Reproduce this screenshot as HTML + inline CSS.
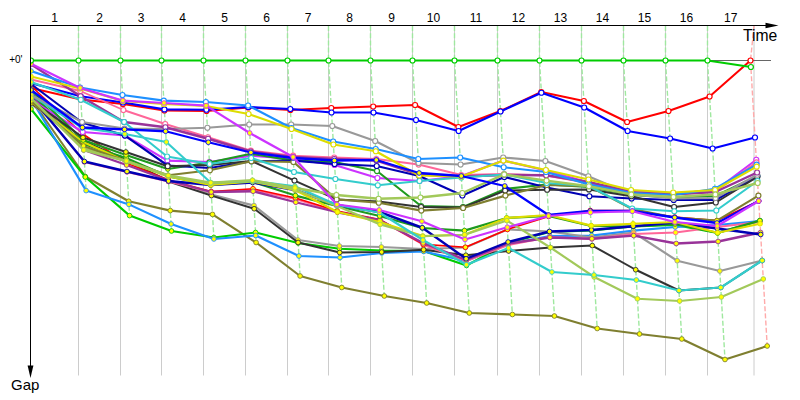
<!DOCTYPE html>
<html><head><meta charset="utf-8"><title>Gap chart</title>
<style>html,body{margin:0;padding:0;background:#fff}svg{display:block}</style></head>
<body>
<svg width="800" height="400" viewBox="0 0 800 400">
<rect width="800" height="400" fill="#fff"/>
<line x1="78.5" y1="26" x2="78.5" y2="375.5" stroke="#cccccc" stroke-width="1"/>
<line x1="120.5" y1="26" x2="120.5" y2="375.5" stroke="#cccccc" stroke-width="1"/>
<line x1="161.5" y1="26" x2="161.5" y2="375.5" stroke="#cccccc" stroke-width="1"/>
<line x1="203.5" y1="26" x2="203.5" y2="375.5" stroke="#cccccc" stroke-width="1"/>
<line x1="245.5" y1="26" x2="245.5" y2="375.5" stroke="#cccccc" stroke-width="1"/>
<line x1="287.5" y1="26" x2="287.5" y2="375.5" stroke="#cccccc" stroke-width="1"/>
<line x1="328.5" y1="26" x2="328.5" y2="375.5" stroke="#cccccc" stroke-width="1"/>
<line x1="370.5" y1="26" x2="370.5" y2="375.5" stroke="#cccccc" stroke-width="1"/>
<line x1="412.5" y1="26" x2="412.5" y2="375.5" stroke="#cccccc" stroke-width="1"/>
<line x1="454.5" y1="26" x2="454.5" y2="375.5" stroke="#cccccc" stroke-width="1"/>
<line x1="497.5" y1="26" x2="497.5" y2="375.5" stroke="#cccccc" stroke-width="1"/>
<line x1="539.5" y1="26" x2="539.5" y2="375.5" stroke="#cccccc" stroke-width="1"/>
<line x1="581.5" y1="26" x2="581.5" y2="375.5" stroke="#cccccc" stroke-width="1"/>
<line x1="623.5" y1="26" x2="623.5" y2="375.5" stroke="#cccccc" stroke-width="1"/>
<line x1="665.5" y1="26" x2="665.5" y2="375.5" stroke="#cccccc" stroke-width="1"/>
<line x1="707.5" y1="26" x2="707.5" y2="375.5" stroke="#cccccc" stroke-width="1"/>
<line x1="754" y1="26" x2="754" y2="375.5" stroke="#cccccc" stroke-width="1"/>
<line x1="31" y1="60.5" x2="771" y2="60.5" stroke="#666" stroke-width="1"/>
<polyline points="78.50,26 78.50,60.5 86.11,190.6" fill="none" stroke="#9fe89f" stroke-width="1.4" stroke-dasharray="5 2.2"/>
<polyline points="120.50,26 120.50,60.5 129.57,215.6" fill="none" stroke="#9fe89f" stroke-width="1.4" stroke-dasharray="5 2.2"/>
<polyline points="161.50,26 161.50,60.5 171.47,231" fill="none" stroke="#9fe89f" stroke-width="1.4" stroke-dasharray="5 2.2"/>
<polyline points="203.50,26 203.50,60.5 213.94,239" fill="none" stroke="#9fe89f" stroke-width="1.4" stroke-dasharray="5 2.2"/>
<polyline points="245.50,26 245.50,60.5 256.15,242.5" fill="none" stroke="#9fe89f" stroke-width="1.4" stroke-dasharray="5 2.2"/>
<polyline points="287.50,26 287.50,60.5 300.11,276" fill="none" stroke="#9fe89f" stroke-width="1.4" stroke-dasharray="5 2.2"/>
<polyline points="328.50,26 328.50,60.5 341.78,287.5" fill="none" stroke="#9fe89f" stroke-width="1.4" stroke-dasharray="5 2.2"/>
<polyline points="370.50,26 370.50,60.5 384.28,296" fill="none" stroke="#9fe89f" stroke-width="1.4" stroke-dasharray="5 2.2"/>
<polyline points="412.50,26 412.50,60.5 426.69,303" fill="none" stroke="#9fe89f" stroke-width="1.4" stroke-dasharray="5 2.2"/>
<polyline points="454.50,26 454.50,60.5 469.27,313" fill="none" stroke="#9fe89f" stroke-width="1.4" stroke-dasharray="5 2.2"/>
<polyline points="497.50,26 497.50,60.5 512.36,314.5" fill="none" stroke="#9fe89f" stroke-width="1.4" stroke-dasharray="5 2.2"/>
<polyline points="539.50,26 539.50,60.5 554.45,316" fill="none" stroke="#9fe89f" stroke-width="1.4" stroke-dasharray="5 2.2"/>
<polyline points="581.50,26 581.50,60.5 597.18,328.5" fill="none" stroke="#9fe89f" stroke-width="1.4" stroke-dasharray="5 2.2"/>
<polyline points="623.50,26 623.50,60.5 639.50,334" fill="none" stroke="#9fe89f" stroke-width="1.4" stroke-dasharray="5 2.2"/>
<polyline points="665.50,26 665.50,60.5 681.79,339" fill="none" stroke="#9fe89f" stroke-width="1.4" stroke-dasharray="5 2.2"/>
<polyline points="707.50,26 707.50,60.5 724.99,359.5" fill="none" stroke="#9fe89f" stroke-width="1.4" stroke-dasharray="5 2.2"/>
<polyline points="754.00,26 750.50,60.5 767.20,346" fill="none" stroke="#ffaaaa" stroke-width="1.4" stroke-dasharray="5 2.2"/>
<clipPath id="cp"><rect x="31" y="26" width="769" height="374"/></clipPath><g clip-path="url(#cp)">
<polyline points="31.0,99 85.3,176.5 128.7,201.25 170.3,210.6 212.5,214.4 256.1,242.5 300.1,276 341.8,287.5 384.3,296 426.7,303 469.3,313 512.4,314.5 554.4,316 597.2,328.5 639.5,334 681.8,339 725.0,359.5 767.2,346" fill="none" stroke="#7f7f30" stroke-width="2.15" stroke-linejoin="round"/>
<circle cx="31.0" cy="99" r="2.35" fill="#ffff00" stroke="#7f7f30" stroke-width="0.9"/>
<circle cx="85.3" cy="176.5" r="2.35" fill="#ffff00" stroke="#7f7f30" stroke-width="0.9"/>
<circle cx="128.7" cy="201.25" r="2.35" fill="#ffff00" stroke="#7f7f30" stroke-width="0.9"/>
<circle cx="170.3" cy="210.6" r="2.35" fill="#ffff00" stroke="#7f7f30" stroke-width="0.9"/>
<circle cx="212.5" cy="214.4" r="2.35" fill="#ffff00" stroke="#7f7f30" stroke-width="0.9"/>
<circle cx="256.1" cy="242.5" r="2.35" fill="#ffff00" stroke="#7f7f30" stroke-width="0.9"/>
<circle cx="300.1" cy="276" r="2.35" fill="#ffff00" stroke="#7f7f30" stroke-width="0.9"/>
<circle cx="341.8" cy="287.5" r="2.35" fill="#ffff00" stroke="#7f7f30" stroke-width="0.9"/>
<circle cx="384.3" cy="296" r="2.35" fill="#ffff00" stroke="#7f7f30" stroke-width="0.9"/>
<circle cx="426.7" cy="303" r="2.35" fill="#ffff00" stroke="#7f7f30" stroke-width="0.9"/>
<circle cx="469.3" cy="313" r="2.35" fill="#ffff00" stroke="#7f7f30" stroke-width="0.9"/>
<circle cx="512.4" cy="314.5" r="2.35" fill="#ffff00" stroke="#7f7f30" stroke-width="0.9"/>
<circle cx="554.4" cy="316" r="2.35" fill="#ffff00" stroke="#7f7f30" stroke-width="0.9"/>
<circle cx="597.2" cy="328.5" r="2.35" fill="#ffff00" stroke="#7f7f30" stroke-width="0.9"/>
<circle cx="639.5" cy="334" r="2.35" fill="#ffff00" stroke="#7f7f30" stroke-width="0.9"/>
<circle cx="681.8" cy="339" r="2.35" fill="#ffff00" stroke="#7f7f30" stroke-width="0.9"/>
<circle cx="725.0" cy="359.5" r="2.35" fill="#ffff00" stroke="#7f7f30" stroke-width="0.9"/>
<circle cx="767.2" cy="346" r="2.35" fill="#ffff00" stroke="#7f7f30" stroke-width="0.9"/>
<polyline points="31.0,109 85.3,177 129.6,215.6 171.5,231 213.9,237.5 255.6,232.5 298.2,243 339.5,248.7 381.6,250.5 423.6,251 466.5,265.5 508.2,243 549.5,232 591.4,230.5 633.2,226.5 675.1,225 717.6,233 759.9,220.6" fill="none" stroke="#00cc00" stroke-width="2.15" stroke-linejoin="round"/>
<circle cx="31.0" cy="109" r="2.35" fill="#ffff00" stroke="#00cc00" stroke-width="0.9"/>
<circle cx="85.3" cy="177" r="2.35" fill="#ffff00" stroke="#00cc00" stroke-width="0.9"/>
<circle cx="129.6" cy="215.6" r="2.35" fill="#ffff00" stroke="#00cc00" stroke-width="0.9"/>
<circle cx="171.5" cy="231" r="2.35" fill="#ffff00" stroke="#00cc00" stroke-width="0.9"/>
<circle cx="213.9" cy="237.5" r="2.35" fill="#ffff00" stroke="#00cc00" stroke-width="0.9"/>
<circle cx="255.6" cy="232.5" r="2.35" fill="#ffff00" stroke="#00cc00" stroke-width="0.9"/>
<circle cx="298.2" cy="243" r="2.35" fill="#ffff00" stroke="#00cc00" stroke-width="0.9"/>
<circle cx="339.5" cy="248.7" r="2.35" fill="#ffff00" stroke="#00cc00" stroke-width="0.9"/>
<circle cx="381.6" cy="250.5" r="2.35" fill="#ffff00" stroke="#00cc00" stroke-width="0.9"/>
<circle cx="423.6" cy="251" r="2.35" fill="#ffff00" stroke="#00cc00" stroke-width="0.9"/>
<circle cx="466.5" cy="265.5" r="2.35" fill="#ffff00" stroke="#00cc00" stroke-width="0.9"/>
<circle cx="508.2" cy="243" r="2.35" fill="#ffff00" stroke="#00cc00" stroke-width="0.9"/>
<circle cx="549.5" cy="232" r="2.35" fill="#ffff00" stroke="#00cc00" stroke-width="0.9"/>
<circle cx="591.4" cy="230.5" r="2.35" fill="#ffff00" stroke="#00cc00" stroke-width="0.9"/>
<circle cx="633.2" cy="226.5" r="2.35" fill="#ffff00" stroke="#00cc00" stroke-width="0.9"/>
<circle cx="675.1" cy="225" r="2.35" fill="#ffff00" stroke="#00cc00" stroke-width="0.9"/>
<circle cx="717.6" cy="233" r="2.35" fill="#ffff00" stroke="#00cc00" stroke-width="0.9"/>
<circle cx="759.9" cy="220.6" r="2.35" fill="#ffff00" stroke="#00cc00" stroke-width="0.9"/>
<polyline points="31.0,99 86.1,190.6 128.9,204.4 171.1,224 213.9,239 255.7,235.5 298.9,256 340.0,257.5 381.8,253 423.7,251.5 466.2,261 508.2,244 549.8,236 591.7,235.6 633.5,230.6 675.2,227 717.1,225 759.9,221" fill="none" stroke="#1e90ff" stroke-width="2.15" stroke-linejoin="round"/>
<circle cx="31.0" cy="99" r="2.35" fill="#ffff00" stroke="#1e90ff" stroke-width="0.9"/>
<circle cx="86.1" cy="190.6" r="2.35" fill="#ffff00" stroke="#1e90ff" stroke-width="0.9"/>
<circle cx="128.9" cy="204.4" r="2.35" fill="#ffff00" stroke="#1e90ff" stroke-width="0.9"/>
<circle cx="171.1" cy="224" r="2.35" fill="#ffff00" stroke="#1e90ff" stroke-width="0.9"/>
<circle cx="213.9" cy="239" r="2.35" fill="#ffff00" stroke="#1e90ff" stroke-width="0.9"/>
<circle cx="255.7" cy="235.5" r="2.35" fill="#ffff00" stroke="#1e90ff" stroke-width="0.9"/>
<circle cx="298.9" cy="256" r="2.35" fill="#ffff00" stroke="#1e90ff" stroke-width="0.9"/>
<circle cx="340.0" cy="257.5" r="2.35" fill="#ffff00" stroke="#1e90ff" stroke-width="0.9"/>
<circle cx="381.8" cy="253" r="2.35" fill="#ffff00" stroke="#1e90ff" stroke-width="0.9"/>
<circle cx="423.7" cy="251.5" r="2.35" fill="#ffff00" stroke="#1e90ff" stroke-width="0.9"/>
<circle cx="466.2" cy="261" r="2.35" fill="#ffff00" stroke="#1e90ff" stroke-width="0.9"/>
<circle cx="508.2" cy="244" r="2.35" fill="#ffff00" stroke="#1e90ff" stroke-width="0.9"/>
<circle cx="549.8" cy="236" r="2.35" fill="#ffff00" stroke="#1e90ff" stroke-width="0.9"/>
<circle cx="591.7" cy="235.6" r="2.35" fill="#ffff00" stroke="#1e90ff" stroke-width="0.9"/>
<circle cx="633.5" cy="230.6" r="2.35" fill="#ffff00" stroke="#1e90ff" stroke-width="0.9"/>
<circle cx="675.2" cy="227" r="2.35" fill="#ffff00" stroke="#1e90ff" stroke-width="0.9"/>
<circle cx="717.1" cy="225" r="2.35" fill="#ffff00" stroke="#1e90ff" stroke-width="0.9"/>
<circle cx="759.9" cy="221" r="2.35" fill="#ffff00" stroke="#1e90ff" stroke-width="0.9"/>
<polyline points="31.0,104 83.3,143 126.4,161 168.5,180.5 211.3,194.5 254.0,205.6 298.0,240 339.4,246 381.4,247 423.5,249 465.4,247.5 507.4,229.4 549.5,231.5 591.9,237.5 633.6,232.5 677.2,260.75 719.8,271 762.2,260.5" fill="none" stroke="#999999" stroke-width="2.15" stroke-linejoin="round"/>
<circle cx="31.0" cy="104" r="2.35" fill="#ffff00" stroke="#999999" stroke-width="0.9"/>
<circle cx="83.3" cy="143" r="2.35" fill="#ffff00" stroke="#999999" stroke-width="0.9"/>
<circle cx="126.4" cy="161" r="2.35" fill="#ffff00" stroke="#999999" stroke-width="0.9"/>
<circle cx="168.5" cy="180.5" r="2.35" fill="#ffff00" stroke="#999999" stroke-width="0.9"/>
<circle cx="211.3" cy="194.5" r="2.35" fill="#ffff00" stroke="#999999" stroke-width="0.9"/>
<circle cx="254.0" cy="205.6" r="2.35" fill="#ffff00" stroke="#999999" stroke-width="0.9"/>
<circle cx="298.0" cy="240" r="2.35" fill="#ffff00" stroke="#999999" stroke-width="0.9"/>
<circle cx="339.4" cy="246" r="2.35" fill="#ffff00" stroke="#999999" stroke-width="0.9"/>
<circle cx="381.4" cy="247" r="2.35" fill="#ffff00" stroke="#999999" stroke-width="0.9"/>
<circle cx="423.5" cy="249" r="2.35" fill="#ffff00" stroke="#999999" stroke-width="0.9"/>
<circle cx="465.4" cy="247.5" r="2.35" fill="#ffff00" stroke="#999999" stroke-width="0.9"/>
<circle cx="507.4" cy="229.4" r="2.35" fill="#ffff00" stroke="#999999" stroke-width="0.9"/>
<circle cx="549.5" cy="231.5" r="2.35" fill="#ffff00" stroke="#999999" stroke-width="0.9"/>
<circle cx="591.9" cy="237.5" r="2.35" fill="#ffff00" stroke="#999999" stroke-width="0.9"/>
<circle cx="633.6" cy="232.5" r="2.35" fill="#ffff00" stroke="#999999" stroke-width="0.9"/>
<circle cx="677.2" cy="260.75" r="2.35" fill="#ffff00" stroke="#999999" stroke-width="0.9"/>
<circle cx="719.8" cy="271" r="2.35" fill="#ffff00" stroke="#999999" stroke-width="0.9"/>
<circle cx="762.2" cy="260.5" r="2.35" fill="#ffff00" stroke="#999999" stroke-width="0.9"/>
<polyline points="31.0,103 83.2,141 126.3,160 168.6,181.5 211.4,195.6 254.2,208.75 298.1,242.5 339.7,252.5 381.7,252 423.6,249.75 465.9,255.25 508.6,251 550.4,247.5 592.3,245.6 635.7,269.75 679.0,290.5 720.8,287.5 762.2,260.5" fill="none" stroke="#333333" stroke-width="2.0" stroke-linejoin="round"/>
<circle cx="31.0" cy="103" r="2.35" fill="#ffff00" stroke="#333333" stroke-width="0.9"/>
<circle cx="83.2" cy="141" r="2.35" fill="#ffff00" stroke="#333333" stroke-width="0.9"/>
<circle cx="126.3" cy="160" r="2.35" fill="#ffff00" stroke="#333333" stroke-width="0.9"/>
<circle cx="168.6" cy="181.5" r="2.35" fill="#ffff00" stroke="#333333" stroke-width="0.9"/>
<circle cx="211.4" cy="195.6" r="2.35" fill="#ffff00" stroke="#333333" stroke-width="0.9"/>
<circle cx="254.2" cy="208.75" r="2.35" fill="#ffff00" stroke="#333333" stroke-width="0.9"/>
<circle cx="298.1" cy="242.5" r="2.35" fill="#ffff00" stroke="#333333" stroke-width="0.9"/>
<circle cx="339.7" cy="252.5" r="2.35" fill="#ffff00" stroke="#333333" stroke-width="0.9"/>
<circle cx="381.7" cy="252" r="2.35" fill="#ffff00" stroke="#333333" stroke-width="0.9"/>
<circle cx="423.6" cy="249.75" r="2.35" fill="#ffff00" stroke="#333333" stroke-width="0.9"/>
<circle cx="465.9" cy="255.25" r="2.35" fill="#ffff00" stroke="#333333" stroke-width="0.9"/>
<circle cx="508.6" cy="251" r="2.35" fill="#ffff00" stroke="#333333" stroke-width="0.9"/>
<circle cx="550.4" cy="247.5" r="2.35" fill="#ffff00" stroke="#333333" stroke-width="0.9"/>
<circle cx="592.3" cy="245.6" r="2.35" fill="#ffff00" stroke="#333333" stroke-width="0.9"/>
<circle cx="635.7" cy="269.75" r="2.35" fill="#ffff00" stroke="#333333" stroke-width="0.9"/>
<circle cx="679.0" cy="290.5" r="2.35" fill="#ffff00" stroke="#333333" stroke-width="0.9"/>
<circle cx="720.8" cy="287.5" r="2.35" fill="#ffff00" stroke="#333333" stroke-width="0.9"/>
<circle cx="762.2" cy="260.5" r="2.35" fill="#ffff00" stroke="#333333" stroke-width="0.9"/>
<polyline points="31.0,96 84.4,162 127.0,172 168.6,181.5 211.2,192 253.1,190 295.6,199 337.4,212 379.8,220 423.3,244.75 466.2,261 508.3,245 549.8,237 591.9,239 633.6,234 675.6,232.5 717.2,227 759.9,222" fill="none" stroke="#ff6699" stroke-width="1.9" stroke-linejoin="round"/>
<circle cx="31.0" cy="96" r="2.35" fill="#ffff00" stroke="#ff6699" stroke-width="0.9"/>
<circle cx="84.4" cy="162" r="2.35" fill="#ffff00" stroke="#ff6699" stroke-width="0.9"/>
<circle cx="127.0" cy="172" r="2.35" fill="#ffff00" stroke="#ff6699" stroke-width="0.9"/>
<circle cx="168.6" cy="181.5" r="2.35" fill="#ffff00" stroke="#ff6699" stroke-width="0.9"/>
<circle cx="211.2" cy="192" r="2.35" fill="#ffff00" stroke="#ff6699" stroke-width="0.9"/>
<circle cx="253.1" cy="190" r="2.35" fill="#ffff00" stroke="#ff6699" stroke-width="0.9"/>
<circle cx="295.6" cy="199" r="2.35" fill="#ffff00" stroke="#ff6699" stroke-width="0.9"/>
<circle cx="337.4" cy="212" r="2.35" fill="#ffff00" stroke="#ff6699" stroke-width="0.9"/>
<circle cx="379.8" cy="220" r="2.35" fill="#ffff00" stroke="#ff6699" stroke-width="0.9"/>
<circle cx="423.3" cy="244.75" r="2.35" fill="#ffff00" stroke="#ff6699" stroke-width="0.9"/>
<circle cx="466.2" cy="261" r="2.35" fill="#ffff00" stroke="#ff6699" stroke-width="0.9"/>
<circle cx="508.3" cy="245" r="2.35" fill="#ffff00" stroke="#ff6699" stroke-width="0.9"/>
<circle cx="549.8" cy="237" r="2.35" fill="#ffff00" stroke="#ff6699" stroke-width="0.9"/>
<circle cx="591.9" cy="239" r="2.35" fill="#ffff00" stroke="#ff6699" stroke-width="0.9"/>
<circle cx="633.6" cy="234" r="2.35" fill="#ffff00" stroke="#ff6699" stroke-width="0.9"/>
<circle cx="675.6" cy="232.5" r="2.35" fill="#ffff00" stroke="#ff6699" stroke-width="0.9"/>
<circle cx="717.2" cy="227" r="2.35" fill="#ffff00" stroke="#ff6699" stroke-width="0.9"/>
<circle cx="759.9" cy="222" r="2.35" fill="#ffff00" stroke="#ff6699" stroke-width="0.9"/>
<polyline points="31.0,86 82.8,134 126.5,163 168.5,180 211.2,191.5 253.0,188.75 295.5,198 337.3,211 379.8,219.5 423.3,244.4 465.4,247.25 507.4,229.4 548.6,216.5 590.3,210.5 632.3,210.5 674.7,217 716.9,220.6 758.7,201" fill="none" stroke="#ff0000" stroke-width="1.6" stroke-linejoin="round"/>
<circle cx="31.0" cy="86" r="2.35" fill="#ffff00" stroke="#ff0000" stroke-width="0.9"/>
<circle cx="82.8" cy="134" r="2.35" fill="#ffff00" stroke="#ff0000" stroke-width="0.9"/>
<circle cx="126.5" cy="163" r="2.35" fill="#ffff00" stroke="#ff0000" stroke-width="0.9"/>
<circle cx="168.5" cy="180" r="2.35" fill="#ffff00" stroke="#ff0000" stroke-width="0.9"/>
<circle cx="211.2" cy="191.5" r="2.35" fill="#ffff00" stroke="#ff0000" stroke-width="0.9"/>
<circle cx="253.0" cy="188.75" r="2.35" fill="#ffff00" stroke="#ff0000" stroke-width="0.9"/>
<circle cx="295.5" cy="198" r="2.35" fill="#ffff00" stroke="#ff0000" stroke-width="0.9"/>
<circle cx="337.3" cy="211" r="2.35" fill="#ffff00" stroke="#ff0000" stroke-width="0.9"/>
<circle cx="379.8" cy="219.5" r="2.35" fill="#ffff00" stroke="#ff0000" stroke-width="0.9"/>
<circle cx="423.3" cy="244.4" r="2.35" fill="#ffff00" stroke="#ff0000" stroke-width="0.9"/>
<circle cx="465.4" cy="247.25" r="2.35" fill="#ffff00" stroke="#ff0000" stroke-width="0.9"/>
<circle cx="507.4" cy="229.4" r="2.35" fill="#ffff00" stroke="#ff0000" stroke-width="0.9"/>
<circle cx="548.6" cy="216.5" r="2.35" fill="#ffff00" stroke="#ff0000" stroke-width="0.9"/>
<circle cx="590.3" cy="210.5" r="2.35" fill="#ffff00" stroke="#ff0000" stroke-width="0.9"/>
<circle cx="632.3" cy="210.5" r="2.35" fill="#ffff00" stroke="#ff0000" stroke-width="0.9"/>
<circle cx="674.7" cy="217" r="2.35" fill="#ffff00" stroke="#ff0000" stroke-width="0.9"/>
<circle cx="716.9" cy="220.6" r="2.35" fill="#ffff00" stroke="#ff0000" stroke-width="0.9"/>
<circle cx="758.7" cy="201" r="2.35" fill="#ffff00" stroke="#ff0000" stroke-width="0.9"/>
<polyline points="31.0,94 83.7,150 126.6,165 168.5,180.5 211.2,192 253.1,191.25 295.8,202.25 337.4,212.25 379.8,220.25 423.2,243 466.2,260 508.2,243.5 549.9,237.5 591.9,238.75 633.7,235.6 676.2,243.5 718.1,241.5 760.6,232.5" fill="none" stroke="#993399" stroke-width="2.3" stroke-linejoin="round"/>
<circle cx="31.0" cy="94" r="2.35" fill="#ffff00" stroke="#993399" stroke-width="0.9"/>
<circle cx="83.7" cy="150" r="2.35" fill="#ffff00" stroke="#993399" stroke-width="0.9"/>
<circle cx="126.6" cy="165" r="2.35" fill="#ffff00" stroke="#993399" stroke-width="0.9"/>
<circle cx="168.5" cy="180.5" r="2.35" fill="#ffff00" stroke="#993399" stroke-width="0.9"/>
<circle cx="211.2" cy="192" r="2.35" fill="#ffff00" stroke="#993399" stroke-width="0.9"/>
<circle cx="253.1" cy="191.25" r="2.35" fill="#ffff00" stroke="#993399" stroke-width="0.9"/>
<circle cx="295.8" cy="202.25" r="2.35" fill="#ffff00" stroke="#993399" stroke-width="0.9"/>
<circle cx="337.4" cy="212.25" r="2.35" fill="#ffff00" stroke="#993399" stroke-width="0.9"/>
<circle cx="379.8" cy="220.25" r="2.35" fill="#ffff00" stroke="#993399" stroke-width="0.9"/>
<circle cx="423.2" cy="243" r="2.35" fill="#ffff00" stroke="#993399" stroke-width="0.9"/>
<circle cx="466.2" cy="260" r="2.35" fill="#ffff00" stroke="#993399" stroke-width="0.9"/>
<circle cx="508.2" cy="243.5" r="2.35" fill="#ffff00" stroke="#993399" stroke-width="0.9"/>
<circle cx="549.9" cy="237.5" r="2.35" fill="#ffff00" stroke="#993399" stroke-width="0.9"/>
<circle cx="591.9" cy="238.75" r="2.35" fill="#ffff00" stroke="#993399" stroke-width="0.9"/>
<circle cx="633.7" cy="235.6" r="2.35" fill="#ffff00" stroke="#993399" stroke-width="0.9"/>
<circle cx="676.2" cy="243.5" r="2.35" fill="#ffff00" stroke="#993399" stroke-width="0.9"/>
<circle cx="718.1" cy="241.5" r="2.35" fill="#ffff00" stroke="#993399" stroke-width="0.9"/>
<circle cx="760.6" cy="232.5" r="2.35" fill="#ffff00" stroke="#993399" stroke-width="0.9"/>
<polyline points="31.0,93 83.4,144 126.2,158 168.3,176.5 210.8,185 252.6,182 295.4,195.6 337.0,206 379.6,216 422.3,228 464.5,230.6 506.7,218 548.6,216 591.2,226 633.2,226.5 675.1,224 717.6,232.75 759.9,220.6" fill="none" stroke="#1e9a1e" stroke-width="2.15" stroke-linejoin="round"/>
<circle cx="31.0" cy="93" r="2.35" fill="#ffff00" stroke="#1e9a1e" stroke-width="0.9"/>
<circle cx="83.4" cy="144" r="2.35" fill="#ffff00" stroke="#1e9a1e" stroke-width="0.9"/>
<circle cx="126.2" cy="158" r="2.35" fill="#ffff00" stroke="#1e9a1e" stroke-width="0.9"/>
<circle cx="168.3" cy="176.5" r="2.35" fill="#ffff00" stroke="#1e9a1e" stroke-width="0.9"/>
<circle cx="210.8" cy="185" r="2.35" fill="#ffff00" stroke="#1e9a1e" stroke-width="0.9"/>
<circle cx="252.6" cy="182" r="2.35" fill="#ffff00" stroke="#1e9a1e" stroke-width="0.9"/>
<circle cx="295.4" cy="195.6" r="2.35" fill="#ffff00" stroke="#1e9a1e" stroke-width="0.9"/>
<circle cx="337.0" cy="206" r="2.35" fill="#ffff00" stroke="#1e9a1e" stroke-width="0.9"/>
<circle cx="379.6" cy="216" r="2.35" fill="#ffff00" stroke="#1e9a1e" stroke-width="0.9"/>
<circle cx="422.3" cy="228" r="2.35" fill="#ffff00" stroke="#1e9a1e" stroke-width="0.9"/>
<circle cx="464.5" cy="230.6" r="2.35" fill="#ffff00" stroke="#1e9a1e" stroke-width="0.9"/>
<circle cx="506.7" cy="218" r="2.35" fill="#ffff00" stroke="#1e9a1e" stroke-width="0.9"/>
<circle cx="548.6" cy="216" r="2.35" fill="#ffff00" stroke="#1e9a1e" stroke-width="0.9"/>
<circle cx="591.2" cy="226" r="2.35" fill="#ffff00" stroke="#1e9a1e" stroke-width="0.9"/>
<circle cx="633.2" cy="226.5" r="2.35" fill="#ffff00" stroke="#1e9a1e" stroke-width="0.9"/>
<circle cx="675.1" cy="224" r="2.35" fill="#ffff00" stroke="#1e9a1e" stroke-width="0.9"/>
<circle cx="717.6" cy="232.75" r="2.35" fill="#ffff00" stroke="#1e9a1e" stroke-width="0.9"/>
<circle cx="759.9" cy="220.6" r="2.35" fill="#ffff00" stroke="#1e9a1e" stroke-width="0.9"/>
<polyline points="31.0,97 84.4,161.5 127.0,171.5 168.5,181 210.8,185 252.6,182.5 295.1,190 337.0,205 379.4,212 422.3,227.75 466.1,258.75 508.1,242 549.5,231.5 591.4,230 633.2,226.25 675.0,222.5 717.3,228.5 760.7,234.5" fill="none" stroke="#0000b4" stroke-width="2.4" stroke-linejoin="round"/>
<circle cx="31.0" cy="97" r="2.35" fill="#ffff00" stroke="#0000b4" stroke-width="0.9"/>
<circle cx="84.4" cy="161.5" r="2.35" fill="#ffff00" stroke="#0000b4" stroke-width="0.9"/>
<circle cx="127.0" cy="171.5" r="2.35" fill="#ffff00" stroke="#0000b4" stroke-width="0.9"/>
<circle cx="168.5" cy="181" r="2.35" fill="#ffff00" stroke="#0000b4" stroke-width="0.9"/>
<circle cx="210.8" cy="185" r="2.35" fill="#ffff00" stroke="#0000b4" stroke-width="0.9"/>
<circle cx="252.6" cy="182.5" r="2.35" fill="#ffff00" stroke="#0000b4" stroke-width="0.9"/>
<circle cx="295.1" cy="190" r="2.35" fill="#ffff00" stroke="#0000b4" stroke-width="0.9"/>
<circle cx="337.0" cy="205" r="2.35" fill="#ffff00" stroke="#0000b4" stroke-width="0.9"/>
<circle cx="379.4" cy="212" r="2.35" fill="#ffff00" stroke="#0000b4" stroke-width="0.9"/>
<circle cx="422.3" cy="227.75" r="2.35" fill="#ffff00" stroke="#0000b4" stroke-width="0.9"/>
<circle cx="466.1" cy="258.75" r="2.35" fill="#ffff00" stroke="#0000b4" stroke-width="0.9"/>
<circle cx="508.1" cy="242" r="2.35" fill="#ffff00" stroke="#0000b4" stroke-width="0.9"/>
<circle cx="549.5" cy="231.5" r="2.35" fill="#ffff00" stroke="#0000b4" stroke-width="0.9"/>
<circle cx="591.4" cy="230" r="2.35" fill="#ffff00" stroke="#0000b4" stroke-width="0.9"/>
<circle cx="633.2" cy="226.25" r="2.35" fill="#ffff00" stroke="#0000b4" stroke-width="0.9"/>
<circle cx="675.0" cy="222.5" r="2.35" fill="#ffff00" stroke="#0000b4" stroke-width="0.9"/>
<circle cx="717.3" cy="228.5" r="2.35" fill="#ffff00" stroke="#0000b4" stroke-width="0.9"/>
<circle cx="760.7" cy="234.5" r="2.35" fill="#ffff00" stroke="#0000b4" stroke-width="0.9"/>
<polyline points="31.0,102 83.3,142 126.4,161.5 168.3,176.5 210.8,185 252.6,181.5 295.1,190 337.4,212 379.9,222 422.8,236 464.7,234.75 506.7,218 548.5,215 591.2,225.6 633.1,223.75 674.9,222 717.6,232.75 760.1,223.75" fill="none" stroke="#dddd00" stroke-width="2.15" stroke-linejoin="round"/>
<circle cx="31.0" cy="102" r="2.35" fill="#ffff00" stroke="#dddd00" stroke-width="0.9"/>
<circle cx="83.3" cy="142" r="2.35" fill="#ffff00" stroke="#dddd00" stroke-width="0.9"/>
<circle cx="126.4" cy="161.5" r="2.35" fill="#ffff00" stroke="#dddd00" stroke-width="0.9"/>
<circle cx="168.3" cy="176.5" r="2.35" fill="#ffff00" stroke="#dddd00" stroke-width="0.9"/>
<circle cx="210.8" cy="185" r="2.35" fill="#ffff00" stroke="#dddd00" stroke-width="0.9"/>
<circle cx="252.6" cy="181.5" r="2.35" fill="#ffff00" stroke="#dddd00" stroke-width="0.9"/>
<circle cx="295.1" cy="190" r="2.35" fill="#ffff00" stroke="#dddd00" stroke-width="0.9"/>
<circle cx="337.4" cy="212" r="2.35" fill="#ffff00" stroke="#dddd00" stroke-width="0.9"/>
<circle cx="379.9" cy="222" r="2.35" fill="#ffff00" stroke="#dddd00" stroke-width="0.9"/>
<circle cx="422.8" cy="236" r="2.35" fill="#ffff00" stroke="#dddd00" stroke-width="0.9"/>
<circle cx="464.7" cy="234.75" r="2.35" fill="#ffff00" stroke="#dddd00" stroke-width="0.9"/>
<circle cx="506.7" cy="218" r="2.35" fill="#ffff00" stroke="#dddd00" stroke-width="0.9"/>
<circle cx="548.5" cy="215" r="2.35" fill="#ffff00" stroke="#dddd00" stroke-width="0.9"/>
<circle cx="591.2" cy="225.6" r="2.35" fill="#ffff00" stroke="#dddd00" stroke-width="0.9"/>
<circle cx="633.1" cy="223.75" r="2.35" fill="#ffff00" stroke="#dddd00" stroke-width="0.9"/>
<circle cx="674.9" cy="222" r="2.35" fill="#ffff00" stroke="#dddd00" stroke-width="0.9"/>
<circle cx="717.6" cy="232.75" r="2.35" fill="#ffff00" stroke="#dddd00" stroke-width="0.9"/>
<circle cx="760.1" cy="223.75" r="2.35" fill="#ffff00" stroke="#dddd00" stroke-width="0.9"/>
<polyline points="31.0,99 83.6,148 126.4,161.5 168.3,176 210.7,183.5 252.5,181 295.0,189.4 337.0,206 380.1,224.4 422.8,236.25 464.7,234.75 506.9,220.6 550.4,247.5 594.2,277 637.4,298.75 679.6,301 721.3,297 763.3,279" fill="none" stroke="#a2c95a" stroke-width="2.15" stroke-linejoin="round"/>
<circle cx="31.0" cy="99" r="2.35" fill="#ffff00" stroke="#a2c95a" stroke-width="0.9"/>
<circle cx="83.6" cy="148" r="2.35" fill="#ffff00" stroke="#a2c95a" stroke-width="0.9"/>
<circle cx="126.4" cy="161.5" r="2.35" fill="#ffff00" stroke="#a2c95a" stroke-width="0.9"/>
<circle cx="168.3" cy="176" r="2.35" fill="#ffff00" stroke="#a2c95a" stroke-width="0.9"/>
<circle cx="210.7" cy="183.5" r="2.35" fill="#ffff00" stroke="#a2c95a" stroke-width="0.9"/>
<circle cx="252.5" cy="181" r="2.35" fill="#ffff00" stroke="#a2c95a" stroke-width="0.9"/>
<circle cx="295.0" cy="189.4" r="2.35" fill="#ffff00" stroke="#a2c95a" stroke-width="0.9"/>
<circle cx="337.0" cy="206" r="2.35" fill="#ffff00" stroke="#a2c95a" stroke-width="0.9"/>
<circle cx="380.1" cy="224.4" r="2.35" fill="#ffff00" stroke="#a2c95a" stroke-width="0.9"/>
<circle cx="422.8" cy="236.25" r="2.35" fill="#ffff00" stroke="#a2c95a" stroke-width="0.9"/>
<circle cx="464.7" cy="234.75" r="2.35" fill="#ffff00" stroke="#a2c95a" stroke-width="0.9"/>
<circle cx="506.9" cy="220.6" r="2.35" fill="#ffff00" stroke="#a2c95a" stroke-width="0.9"/>
<circle cx="550.4" cy="247.5" r="2.35" fill="#ffff00" stroke="#a2c95a" stroke-width="0.9"/>
<circle cx="594.2" cy="277" r="2.35" fill="#ffff00" stroke="#a2c95a" stroke-width="0.9"/>
<circle cx="637.4" cy="298.75" r="2.35" fill="#ffff00" stroke="#a2c95a" stroke-width="0.9"/>
<circle cx="679.6" cy="301" r="2.35" fill="#ffff00" stroke="#a2c95a" stroke-width="0.9"/>
<circle cx="721.3" cy="297" r="2.35" fill="#ffff00" stroke="#a2c95a" stroke-width="0.9"/>
<circle cx="763.3" cy="279" r="2.35" fill="#ffff00" stroke="#a2c95a" stroke-width="0.9"/>
<polyline points="31.0,88 80.8,99.5 123.0,104 164.4,110.5 206.5,111 248.2,107.5 290.4,110 331.3,108 373.2,106.5 415.1,105 458.4,127 500.5,111 541.3,92 583.9,101 627.1,122 668.5,111 709.6,96.5 750.5,60.5" fill="none" stroke="#ff0000" stroke-width="2.0" stroke-linejoin="round"/>
<circle cx="31.0" cy="88" r="2.35" fill="#ffff00" stroke="#ff0000" stroke-width="0.9"/>
<circle cx="80.8" cy="99.5" r="2.5" fill="#ffffff" stroke="#ff0000" stroke-width="1.2"/>
<circle cx="123.0" cy="104" r="2.5" fill="#ffffff" stroke="#ff0000" stroke-width="1.2"/>
<circle cx="164.4" cy="110.5" r="2.5" fill="#ffffff" stroke="#ff0000" stroke-width="1.2"/>
<circle cx="206.5" cy="111" r="2.5" fill="#ffffff" stroke="#ff0000" stroke-width="1.2"/>
<circle cx="248.2" cy="107.5" r="2.5" fill="#ffffff" stroke="#ff0000" stroke-width="1.2"/>
<circle cx="290.4" cy="110" r="2.5" fill="#ffffff" stroke="#ff0000" stroke-width="1.2"/>
<circle cx="331.3" cy="108" r="2.5" fill="#ffffff" stroke="#ff0000" stroke-width="1.2"/>
<circle cx="373.2" cy="106.5" r="2.5" fill="#ffffff" stroke="#ff0000" stroke-width="1.2"/>
<circle cx="415.1" cy="105" r="2.5" fill="#ffffff" stroke="#ff0000" stroke-width="1.2"/>
<circle cx="458.4" cy="127" r="2.5" fill="#ffffff" stroke="#ff0000" stroke-width="1.2"/>
<circle cx="500.5" cy="111" r="2.5" fill="#ffffff" stroke="#ff0000" stroke-width="1.2"/>
<circle cx="541.3" cy="92" r="2.5" fill="#ffffff" stroke="#ff0000" stroke-width="1.2"/>
<circle cx="583.9" cy="101" r="2.5" fill="#ffffff" stroke="#ff0000" stroke-width="1.2"/>
<circle cx="627.1" cy="122" r="2.5" fill="#ffffff" stroke="#ff0000" stroke-width="1.2"/>
<circle cx="668.5" cy="111" r="2.5" fill="#ffffff" stroke="#ff0000" stroke-width="1.2"/>
<circle cx="709.6" cy="96.5" r="2.5" fill="#ffffff" stroke="#ff0000" stroke-width="1.2"/>
<circle cx="750.5" cy="60.5" r="2.5" fill="#ffffff" stroke="#ff0000" stroke-width="1.2"/>
<polyline points="31.0,83 80.6,96.25 123.0,102.5 164.4,109.4 206.4,109.75 248.2,107 290.3,109 331.5,112.5 373.5,112.5 416.0,120 458.6,131 500.5,111.5 541.4,92.75 584.2,107.5 627.6,131 670.1,138.5 712.6,148.5 755.0,137.5" fill="none" stroke="#0000ff" stroke-width="2.2" stroke-linejoin="round"/>
<circle cx="31.0" cy="83" r="2.35" fill="#ffff00" stroke="#0000ff" stroke-width="0.9"/>
<circle cx="80.6" cy="96.25" r="2.5" fill="#ffffff" stroke="#0000ff" stroke-width="1.2"/>
<circle cx="123.0" cy="102.5" r="2.5" fill="#ffffff" stroke="#0000ff" stroke-width="1.2"/>
<circle cx="164.4" cy="109.4" r="2.5" fill="#ffffff" stroke="#0000ff" stroke-width="1.2"/>
<circle cx="206.4" cy="109.75" r="2.5" fill="#ffffff" stroke="#0000ff" stroke-width="1.2"/>
<circle cx="248.2" cy="107" r="2.5" fill="#ffffff" stroke="#0000ff" stroke-width="1.2"/>
<circle cx="290.3" cy="109" r="2.5" fill="#ffffff" stroke="#0000ff" stroke-width="1.2"/>
<circle cx="331.5" cy="112.5" r="2.5" fill="#ffffff" stroke="#0000ff" stroke-width="1.2"/>
<circle cx="373.5" cy="112.5" r="2.5" fill="#ffffff" stroke="#0000ff" stroke-width="1.2"/>
<circle cx="416.0" cy="120" r="2.5" fill="#ffffff" stroke="#0000ff" stroke-width="1.2"/>
<circle cx="458.6" cy="131" r="2.5" fill="#ffffff" stroke="#0000ff" stroke-width="1.2"/>
<circle cx="500.5" cy="111.5" r="2.5" fill="#ffffff" stroke="#0000ff" stroke-width="1.2"/>
<circle cx="541.4" cy="92.75" r="2.5" fill="#ffffff" stroke="#0000ff" stroke-width="1.2"/>
<circle cx="584.2" cy="107.5" r="2.5" fill="#ffffff" stroke="#0000ff" stroke-width="1.2"/>
<circle cx="627.6" cy="131" r="2.5" fill="#ffffff" stroke="#0000ff" stroke-width="1.2"/>
<circle cx="670.1" cy="138.5" r="2.5" fill="#ffffff" stroke="#0000ff" stroke-width="1.2"/>
<circle cx="712.6" cy="148.5" r="2.5" fill="#ffffff" stroke="#0000ff" stroke-width="1.2"/>
<circle cx="755.0" cy="137.5" r="2.5" fill="#ffffff" stroke="#0000ff" stroke-width="1.2"/>
<polyline points="31.0,100 82.7,132 124.9,135.5 167.4,160.6 209.4,162 251.1,155.6 293.3,159 334.6,165 377.4,178 419.5,181 461.3,176 503.4,160.6 545.9,170.5 588.6,182.5 631.1,191.25 673.3,193.5 715.1,190.5 756.3,159.75" fill="none" stroke="#cc33ff" stroke-width="2.15" stroke-linejoin="round"/>
<circle cx="31.0" cy="100" r="2.35" fill="#ffff00" stroke="#cc33ff" stroke-width="0.9"/>
<circle cx="82.7" cy="132" r="2.5" fill="#ffffff" stroke="#cc33ff" stroke-width="1.2"/>
<circle cx="124.9" cy="135.5" r="2.5" fill="#ffffff" stroke="#cc33ff" stroke-width="1.2"/>
<circle cx="167.4" cy="160.6" r="2.5" fill="#ffffff" stroke="#cc33ff" stroke-width="1.2"/>
<circle cx="209.4" cy="162" r="2.5" fill="#ffffff" stroke="#cc33ff" stroke-width="1.2"/>
<circle cx="251.1" cy="155.6" r="2.5" fill="#ffffff" stroke="#cc33ff" stroke-width="1.2"/>
<circle cx="293.3" cy="159" r="2.5" fill="#ffffff" stroke="#cc33ff" stroke-width="1.2"/>
<circle cx="334.6" cy="165" r="2.5" fill="#ffffff" stroke="#cc33ff" stroke-width="1.2"/>
<circle cx="377.4" cy="178" r="2.5" fill="#ffffff" stroke="#cc33ff" stroke-width="1.2"/>
<circle cx="419.5" cy="181" r="2.5" fill="#ffffff" stroke="#cc33ff" stroke-width="1.2"/>
<circle cx="461.3" cy="176" r="2.5" fill="#ffffff" stroke="#cc33ff" stroke-width="1.2"/>
<circle cx="503.4" cy="160.6" r="2.5" fill="#ffffff" stroke="#cc33ff" stroke-width="1.2"/>
<circle cx="545.9" cy="170.5" r="2.5" fill="#ffffff" stroke="#cc33ff" stroke-width="1.2"/>
<circle cx="588.6" cy="182.5" r="2.5" fill="#ffffff" stroke="#cc33ff" stroke-width="1.2"/>
<circle cx="631.1" cy="191.25" r="2.5" fill="#ffffff" stroke="#cc33ff" stroke-width="1.2"/>
<circle cx="673.3" cy="193.5" r="2.5" fill="#ffffff" stroke="#cc33ff" stroke-width="1.2"/>
<circle cx="715.1" cy="190.5" r="2.5" fill="#ffffff" stroke="#cc33ff" stroke-width="1.2"/>
<circle cx="756.3" cy="159.75" r="2.5" fill="#ffffff" stroke="#cc33ff" stroke-width="1.2"/>
<polyline points="31.0,90 83.2,140 126.0,155 167.8,169 209.5,162.5 251.0,153.75 293.4,160.6 334.4,162 377.0,171 421.0,206 463.1,207 505.0,189 546.8,184.5 588.9,187 631.4,195 673.5,197.5 715.4,196 757.3,176" fill="none" stroke="#1e9a1e" stroke-width="2.15" stroke-linejoin="round"/>
<circle cx="31.0" cy="90" r="2.35" fill="#ffff00" stroke="#1e9a1e" stroke-width="0.9"/>
<circle cx="83.2" cy="140" r="2.35" fill="#ffff00" stroke="#1e9a1e" stroke-width="0.9"/>
<circle cx="126.0" cy="155" r="2.35" fill="#ffff00" stroke="#1e9a1e" stroke-width="0.9"/>
<circle cx="167.8" cy="169" r="2.35" fill="#ffff00" stroke="#1e9a1e" stroke-width="0.9"/>
<circle cx="209.5" cy="162.5" r="2.5" fill="#ffffff" stroke="#1e9a1e" stroke-width="1.2"/>
<circle cx="251.0" cy="153.75" r="2.5" fill="#ffffff" stroke="#1e9a1e" stroke-width="1.2"/>
<circle cx="293.4" cy="160.6" r="2.5" fill="#ffffff" stroke="#1e9a1e" stroke-width="1.2"/>
<circle cx="334.4" cy="162" r="2.5" fill="#ffffff" stroke="#1e9a1e" stroke-width="1.2"/>
<circle cx="377.0" cy="171" r="2.5" fill="#ffffff" stroke="#1e9a1e" stroke-width="1.2"/>
<circle cx="421.0" cy="206" r="2.5" fill="#ffffff" stroke="#1e9a1e" stroke-width="1.2"/>
<circle cx="463.1" cy="207" r="2.5" fill="#ffffff" stroke="#1e9a1e" stroke-width="1.2"/>
<circle cx="505.0" cy="189" r="2.5" fill="#ffffff" stroke="#1e9a1e" stroke-width="1.2"/>
<circle cx="546.8" cy="184.5" r="2.5" fill="#ffffff" stroke="#1e9a1e" stroke-width="1.2"/>
<circle cx="588.9" cy="187" r="2.5" fill="#ffffff" stroke="#1e9a1e" stroke-width="1.2"/>
<circle cx="631.4" cy="195" r="2.5" fill="#ffffff" stroke="#1e9a1e" stroke-width="1.2"/>
<circle cx="673.5" cy="197.5" r="2.5" fill="#ffffff" stroke="#1e9a1e" stroke-width="1.2"/>
<circle cx="715.4" cy="196" r="2.5" fill="#ffffff" stroke="#1e9a1e" stroke-width="1.2"/>
<circle cx="757.3" cy="176" r="2.5" fill="#ffffff" stroke="#1e9a1e" stroke-width="1.2"/>
<polyline points="31.0,84 82.1,122.5 124.9,135.6 167.6,165.5 209.8,168 251.4,161.25 293.4,160.6 334.6,164 376.7,166 419.3,176 462.4,195.5 504.3,177 546.9,187.5 589.4,196.25 631.6,198.5 673.7,200 715.7,200 757.3,176" fill="none" stroke="#0000b4" stroke-width="2.15" stroke-linejoin="round"/>
<circle cx="31.0" cy="84" r="2.35" fill="#ffff00" stroke="#0000b4" stroke-width="0.9"/>
<circle cx="82.1" cy="122.5" r="2.5" fill="#ffffff" stroke="#0000b4" stroke-width="1.2"/>
<circle cx="124.9" cy="135.6" r="2.5" fill="#ffffff" stroke="#0000b4" stroke-width="1.2"/>
<circle cx="167.6" cy="165.5" r="2.5" fill="#ffffff" stroke="#0000b4" stroke-width="1.2"/>
<circle cx="209.8" cy="168" r="2.5" fill="#ffffff" stroke="#0000b4" stroke-width="1.2"/>
<circle cx="251.4" cy="161.25" r="2.5" fill="#ffffff" stroke="#0000b4" stroke-width="1.2"/>
<circle cx="293.4" cy="160.6" r="2.5" fill="#ffffff" stroke="#0000b4" stroke-width="1.2"/>
<circle cx="334.6" cy="164" r="2.5" fill="#ffffff" stroke="#0000b4" stroke-width="1.2"/>
<circle cx="376.7" cy="166" r="2.5" fill="#ffffff" stroke="#0000b4" stroke-width="1.2"/>
<circle cx="419.3" cy="176" r="2.5" fill="#ffffff" stroke="#0000b4" stroke-width="1.2"/>
<circle cx="462.4" cy="195.5" r="2.5" fill="#ffffff" stroke="#0000b4" stroke-width="1.2"/>
<circle cx="504.3" cy="177" r="2.5" fill="#ffffff" stroke="#0000b4" stroke-width="1.2"/>
<circle cx="546.9" cy="187.5" r="2.5" fill="#ffffff" stroke="#0000b4" stroke-width="1.2"/>
<circle cx="589.4" cy="196.25" r="2.5" fill="#ffffff" stroke="#0000b4" stroke-width="1.2"/>
<circle cx="631.6" cy="198.5" r="2.5" fill="#ffffff" stroke="#0000b4" stroke-width="1.2"/>
<circle cx="673.7" cy="200" r="2.5" fill="#ffffff" stroke="#0000b4" stroke-width="1.2"/>
<circle cx="715.7" cy="200" r="2.5" fill="#ffffff" stroke="#0000b4" stroke-width="1.2"/>
<circle cx="757.3" cy="176" r="2.5" fill="#ffffff" stroke="#0000b4" stroke-width="1.2"/>
<polyline points="31.0,100 83.0,137.5 125.9,152 167.7,166.25 209.6,165 251.4,161 294.5,180.6 336.6,199.4 378.7,201.5 421.1,207 463.1,207.5 505.1,190.6 547.1,189.75 589.0,189.4 631.4,196.25 674.1,207 715.8,202.5 757.3,177" fill="none" stroke="#333333" stroke-width="2.0" stroke-linejoin="round"/>
<circle cx="31.0" cy="100" r="2.35" fill="#ffff00" stroke="#333333" stroke-width="0.9"/>
<circle cx="83.0" cy="137.5" r="2.35" fill="#ffff00" stroke="#333333" stroke-width="0.9"/>
<circle cx="125.9" cy="152" r="2.35" fill="#ffff00" stroke="#333333" stroke-width="0.9"/>
<circle cx="167.7" cy="166.25" r="2.5" fill="#ffffff" stroke="#333333" stroke-width="1.2"/>
<circle cx="209.6" cy="165" r="2.5" fill="#ffffff" stroke="#333333" stroke-width="1.2"/>
<circle cx="251.4" cy="161" r="2.5" fill="#ffffff" stroke="#333333" stroke-width="1.2"/>
<circle cx="294.5" cy="180.6" r="2.5" fill="#ffffff" stroke="#333333" stroke-width="1.2"/>
<circle cx="336.6" cy="199.4" r="2.5" fill="#ffffff" stroke="#333333" stroke-width="1.2"/>
<circle cx="378.7" cy="201.5" r="2.5" fill="#ffffff" stroke="#333333" stroke-width="1.2"/>
<circle cx="421.1" cy="207" r="2.5" fill="#ffffff" stroke="#333333" stroke-width="1.2"/>
<circle cx="463.1" cy="207.5" r="2.5" fill="#ffffff" stroke="#333333" stroke-width="1.2"/>
<circle cx="505.1" cy="190.6" r="2.5" fill="#ffffff" stroke="#333333" stroke-width="1.2"/>
<circle cx="547.1" cy="189.75" r="2.5" fill="#ffffff" stroke="#333333" stroke-width="1.2"/>
<circle cx="589.0" cy="189.4" r="2.5" fill="#ffffff" stroke="#333333" stroke-width="1.2"/>
<circle cx="631.4" cy="196.25" r="2.5" fill="#ffffff" stroke="#333333" stroke-width="1.2"/>
<circle cx="674.1" cy="207" r="2.5" fill="#ffffff" stroke="#333333" stroke-width="1.2"/>
<circle cx="715.8" cy="202.5" r="2.5" fill="#ffffff" stroke="#333333" stroke-width="1.2"/>
<circle cx="757.3" cy="177" r="2.5" fill="#ffffff" stroke="#333333" stroke-width="1.2"/>
<polyline points="31.0,101 83.5,146 126.4,161 168.2,175.25 209.9,170.25 251.4,161.25 293.4,162 336.6,199.4 378.8,202.75 421.3,210.6 463.1,208 505.4,195.6 546.8,185 588.9,186.25 632.2,209 674.7,217.5 716.9,220.6 758.4,195.6" fill="none" stroke="#7f7f30" stroke-width="2.15" stroke-linejoin="round"/>
<circle cx="31.0" cy="101" r="2.35" fill="#ffff00" stroke="#7f7f30" stroke-width="0.9"/>
<circle cx="83.5" cy="146" r="2.35" fill="#ffff00" stroke="#7f7f30" stroke-width="0.9"/>
<circle cx="126.4" cy="161" r="2.35" fill="#ffff00" stroke="#7f7f30" stroke-width="0.9"/>
<circle cx="168.2" cy="175.25" r="2.35" fill="#ffff00" stroke="#7f7f30" stroke-width="0.9"/>
<circle cx="209.9" cy="170.25" r="2.5" fill="#ffffff" stroke="#7f7f30" stroke-width="1.2"/>
<circle cx="251.4" cy="161.25" r="2.5" fill="#ffffff" stroke="#7f7f30" stroke-width="1.2"/>
<circle cx="293.4" cy="162" r="2.5" fill="#ffffff" stroke="#7f7f30" stroke-width="1.2"/>
<circle cx="336.6" cy="199.4" r="2.5" fill="#ffffff" stroke="#7f7f30" stroke-width="1.2"/>
<circle cx="378.8" cy="202.75" r="2.5" fill="#ffffff" stroke="#7f7f30" stroke-width="1.2"/>
<circle cx="421.3" cy="210.6" r="2.5" fill="#ffffff" stroke="#7f7f30" stroke-width="1.2"/>
<circle cx="463.1" cy="208" r="2.5" fill="#ffffff" stroke="#7f7f30" stroke-width="1.2"/>
<circle cx="505.4" cy="195.6" r="2.5" fill="#ffffff" stroke="#7f7f30" stroke-width="1.2"/>
<circle cx="546.8" cy="185" r="2.5" fill="#ffffff" stroke="#7f7f30" stroke-width="1.2"/>
<circle cx="588.9" cy="186.25" r="2.5" fill="#ffffff" stroke="#7f7f30" stroke-width="1.2"/>
<circle cx="632.2" cy="209" r="2.35" fill="#ffff00" stroke="#7f7f30" stroke-width="0.9"/>
<circle cx="674.7" cy="217.5" r="2.35" fill="#ffff00" stroke="#7f7f30" stroke-width="0.9"/>
<circle cx="716.9" cy="220.6" r="2.35" fill="#ffff00" stroke="#7f7f30" stroke-width="0.9"/>
<circle cx="758.4" cy="195.6" r="2.5" fill="#ffffff" stroke="#7f7f30" stroke-width="1.2"/>
<polyline points="31.0,95 82.4,128 124.8,134 166.3,142 210.6,182.5 252.5,181 294.9,186.25 337.0,205 379.4,212.5 423.0,240 466.4,264.75 508.5,248 551.9,272 594.0,275 636.3,280 679.0,290.5 720.8,287.5 762.2,260.5" fill="none" stroke="#33cccc" stroke-width="2.15" stroke-linejoin="round"/>
<circle cx="31.0" cy="95" r="2.35" fill="#ffff00" stroke="#33cccc" stroke-width="0.9"/>
<circle cx="82.4" cy="128" r="2.35" fill="#ffff00" stroke="#33cccc" stroke-width="0.9"/>
<circle cx="124.8" cy="134" r="2.35" fill="#ffff00" stroke="#33cccc" stroke-width="0.9"/>
<circle cx="166.3" cy="142" r="2.35" fill="#ffff00" stroke="#33cccc" stroke-width="0.9"/>
<circle cx="210.6" cy="182.5" r="2.35" fill="#ffff00" stroke="#33cccc" stroke-width="0.9"/>
<circle cx="252.5" cy="181" r="2.35" fill="#ffff00" stroke="#33cccc" stroke-width="0.9"/>
<circle cx="294.9" cy="186.25" r="2.35" fill="#ffff00" stroke="#33cccc" stroke-width="0.9"/>
<circle cx="337.0" cy="205" r="2.35" fill="#ffff00" stroke="#33cccc" stroke-width="0.9"/>
<circle cx="379.4" cy="212.5" r="2.35" fill="#ffff00" stroke="#33cccc" stroke-width="0.9"/>
<circle cx="423.0" cy="240" r="2.35" fill="#ffff00" stroke="#33cccc" stroke-width="0.9"/>
<circle cx="466.4" cy="264.75" r="2.35" fill="#ffff00" stroke="#33cccc" stroke-width="0.9"/>
<circle cx="508.5" cy="248" r="2.35" fill="#ffff00" stroke="#33cccc" stroke-width="0.9"/>
<circle cx="551.9" cy="272" r="2.35" fill="#ffff00" stroke="#33cccc" stroke-width="0.9"/>
<circle cx="594.0" cy="275" r="2.35" fill="#ffff00" stroke="#33cccc" stroke-width="0.9"/>
<circle cx="636.3" cy="280" r="2.35" fill="#ffff00" stroke="#33cccc" stroke-width="0.9"/>
<circle cx="679.0" cy="290.5" r="2.35" fill="#ffff00" stroke="#33cccc" stroke-width="0.9"/>
<circle cx="720.8" cy="287.5" r="2.35" fill="#ffff00" stroke="#33cccc" stroke-width="0.9"/>
<circle cx="762.2" cy="260.5" r="2.35" fill="#ffff00" stroke="#33cccc" stroke-width="0.9"/>
<polyline points="31.0,79.4 80.3,91 123.4,110 165.2,124 208.0,137.25 250.8,150.6 293.1,155.6 334.2,157.5 376.3,159 418.6,164.5 461.2,175 504.1,174 546.2,175.5 588.7,183 631.2,192.5 673.3,194.5 715.2,191.5 756.5,162.4" fill="none" stroke="#ff6699" stroke-width="1.9" stroke-linejoin="round"/>
<circle cx="31.0" cy="79.4" r="2.35" fill="#ffff00" stroke="#ff6699" stroke-width="0.9"/>
<circle cx="80.3" cy="91" r="2.5" fill="#ffffff" stroke="#ff6699" stroke-width="1.2"/>
<circle cx="123.4" cy="110" r="2.5" fill="#ffffff" stroke="#ff6699" stroke-width="1.2"/>
<circle cx="165.2" cy="124" r="2.5" fill="#ffffff" stroke="#ff6699" stroke-width="1.2"/>
<circle cx="208.0" cy="137.25" r="2.5" fill="#ffffff" stroke="#ff6699" stroke-width="1.2"/>
<circle cx="250.8" cy="150.6" r="2.5" fill="#ffffff" stroke="#ff6699" stroke-width="1.2"/>
<circle cx="293.1" cy="155.6" r="2.5" fill="#ffffff" stroke="#ff6699" stroke-width="1.2"/>
<circle cx="334.2" cy="157.5" r="2.5" fill="#ffffff" stroke="#ff6699" stroke-width="1.2"/>
<circle cx="376.3" cy="159" r="2.5" fill="#ffffff" stroke="#ff6699" stroke-width="1.2"/>
<circle cx="418.6" cy="164.5" r="2.5" fill="#ffffff" stroke="#ff6699" stroke-width="1.2"/>
<circle cx="461.2" cy="175" r="2.5" fill="#ffffff" stroke="#ff6699" stroke-width="1.2"/>
<circle cx="504.1" cy="174" r="2.5" fill="#ffffff" stroke="#ff6699" stroke-width="1.2"/>
<circle cx="546.2" cy="175.5" r="2.5" fill="#ffffff" stroke="#ff6699" stroke-width="1.2"/>
<circle cx="588.7" cy="183" r="2.5" fill="#ffffff" stroke="#ff6699" stroke-width="1.2"/>
<circle cx="631.2" cy="192.5" r="2.5" fill="#ffffff" stroke="#ff6699" stroke-width="1.2"/>
<circle cx="673.3" cy="194.5" r="2.5" fill="#ffffff" stroke="#ff6699" stroke-width="1.2"/>
<circle cx="715.2" cy="191.5" r="2.5" fill="#ffffff" stroke="#ff6699" stroke-width="1.2"/>
<circle cx="756.5" cy="162.4" r="2.5" fill="#ffffff" stroke="#ff6699" stroke-width="1.2"/>
<polyline points="31.0,95 82.1,122 124.5,128.5 165.5,129 207.4,127.75 249.2,124.5 291.2,124.5 332.3,126 375.2,141 418.5,163 460.6,164.5 503.2,157.5 545.4,161 588.3,176.25 631.3,194.5 673.6,198.5 715.5,198 757.2,174.75" fill="none" stroke="#999999" stroke-width="2.15" stroke-linejoin="round"/>
<circle cx="31.0" cy="95" r="2.35" fill="#ffff00" stroke="#999999" stroke-width="0.9"/>
<circle cx="82.1" cy="122" r="2.5" fill="#ffffff" stroke="#999999" stroke-width="1.2"/>
<circle cx="124.5" cy="128.5" r="2.5" fill="#ffffff" stroke="#999999" stroke-width="1.2"/>
<circle cx="165.5" cy="129" r="2.5" fill="#ffffff" stroke="#999999" stroke-width="1.2"/>
<circle cx="207.4" cy="127.75" r="2.5" fill="#ffffff" stroke="#999999" stroke-width="1.2"/>
<circle cx="249.2" cy="124.5" r="2.5" fill="#ffffff" stroke="#999999" stroke-width="1.2"/>
<circle cx="291.2" cy="124.5" r="2.5" fill="#ffffff" stroke="#999999" stroke-width="1.2"/>
<circle cx="332.3" cy="126" r="2.5" fill="#ffffff" stroke="#999999" stroke-width="1.2"/>
<circle cx="375.2" cy="141" r="2.5" fill="#ffffff" stroke="#999999" stroke-width="1.2"/>
<circle cx="418.5" cy="163" r="2.5" fill="#ffffff" stroke="#999999" stroke-width="1.2"/>
<circle cx="460.6" cy="164.5" r="2.5" fill="#ffffff" stroke="#999999" stroke-width="1.2"/>
<circle cx="503.2" cy="157.5" r="2.5" fill="#ffffff" stroke="#999999" stroke-width="1.2"/>
<circle cx="545.4" cy="161" r="2.5" fill="#ffffff" stroke="#999999" stroke-width="1.2"/>
<circle cx="588.3" cy="176.25" r="2.5" fill="#ffffff" stroke="#999999" stroke-width="1.2"/>
<circle cx="631.3" cy="194.5" r="2.5" fill="#ffffff" stroke="#999999" stroke-width="1.2"/>
<circle cx="673.6" cy="198.5" r="2.5" fill="#ffffff" stroke="#999999" stroke-width="1.2"/>
<circle cx="715.5" cy="198" r="2.5" fill="#ffffff" stroke="#999999" stroke-width="1.2"/>
<circle cx="757.2" cy="174.75" r="2.5" fill="#ffffff" stroke="#999999" stroke-width="1.2"/>
<polyline points="31.0,64.4 80.6,96.25 124.1,122 165.4,127.25 208.1,138.75 250.8,151.5 293.1,157 334.3,159 376.4,160.5 419.2,174.5 461.3,176.5 504.2,175 546.2,175.25 588.6,182 631.2,192.25 673.3,194.4 715.2,192 757.1,172.5" fill="none" stroke="#993399" stroke-width="2.4" stroke-linejoin="round"/>
<circle cx="31.0" cy="64.4" r="2.35" fill="#ffff00" stroke="#993399" stroke-width="0.9"/>
<circle cx="80.6" cy="96.25" r="2.5" fill="#ffffff" stroke="#993399" stroke-width="1.2"/>
<circle cx="124.1" cy="122" r="2.5" fill="#ffffff" stroke="#993399" stroke-width="1.2"/>
<circle cx="165.4" cy="127.25" r="2.5" fill="#ffffff" stroke="#993399" stroke-width="1.2"/>
<circle cx="208.1" cy="138.75" r="2.5" fill="#ffffff" stroke="#993399" stroke-width="1.2"/>
<circle cx="250.8" cy="151.5" r="2.5" fill="#ffffff" stroke="#993399" stroke-width="1.2"/>
<circle cx="293.1" cy="157" r="2.5" fill="#ffffff" stroke="#993399" stroke-width="1.2"/>
<circle cx="334.3" cy="159" r="2.5" fill="#ffffff" stroke="#993399" stroke-width="1.2"/>
<circle cx="376.4" cy="160.5" r="2.5" fill="#ffffff" stroke="#993399" stroke-width="1.2"/>
<circle cx="419.2" cy="174.5" r="2.5" fill="#ffffff" stroke="#993399" stroke-width="1.2"/>
<circle cx="461.3" cy="176.5" r="2.5" fill="#ffffff" stroke="#993399" stroke-width="1.2"/>
<circle cx="504.2" cy="175" r="2.5" fill="#ffffff" stroke="#993399" stroke-width="1.2"/>
<circle cx="546.2" cy="175.25" r="2.5" fill="#ffffff" stroke="#993399" stroke-width="1.2"/>
<circle cx="588.6" cy="182" r="2.5" fill="#ffffff" stroke="#993399" stroke-width="1.2"/>
<circle cx="631.2" cy="192.25" r="2.5" fill="#ffffff" stroke="#993399" stroke-width="1.2"/>
<circle cx="673.3" cy="194.4" r="2.5" fill="#ffffff" stroke="#993399" stroke-width="1.2"/>
<circle cx="715.2" cy="192" r="2.5" fill="#ffffff" stroke="#993399" stroke-width="1.2"/>
<circle cx="757.1" cy="172.5" r="2.5" fill="#ffffff" stroke="#993399" stroke-width="1.2"/>
<polyline points="31.0,82 80.8,99.75 124.1,122 167.1,156.5 209.6,164 251.2,158 294.0,172 335.4,179 377.8,185.25 419.5,181 461.3,177.5 504.2,174.5 546.7,183 588.8,186 632.2,208.5 674.3,211.25 716.3,210.5 757.5,181" fill="none" stroke="#33cccc" stroke-width="2.15" stroke-linejoin="round"/>
<circle cx="31.0" cy="82" r="2.35" fill="#ffff00" stroke="#33cccc" stroke-width="0.9"/>
<circle cx="80.8" cy="99.75" r="2.5" fill="#ffffff" stroke="#33cccc" stroke-width="1.2"/>
<circle cx="124.1" cy="122" r="2.5" fill="#ffffff" stroke="#33cccc" stroke-width="1.2"/>
<circle cx="167.1" cy="156.5" r="2.5" fill="#ffffff" stroke="#33cccc" stroke-width="1.2"/>
<circle cx="209.6" cy="164" r="2.5" fill="#ffffff" stroke="#33cccc" stroke-width="1.2"/>
<circle cx="251.2" cy="158" r="2.5" fill="#ffffff" stroke="#33cccc" stroke-width="1.2"/>
<circle cx="294.0" cy="172" r="2.5" fill="#ffffff" stroke="#33cccc" stroke-width="1.2"/>
<circle cx="335.4" cy="179" r="2.5" fill="#ffffff" stroke="#33cccc" stroke-width="1.2"/>
<circle cx="377.8" cy="185.25" r="2.5" fill="#ffffff" stroke="#33cccc" stroke-width="1.2"/>
<circle cx="419.5" cy="181" r="2.5" fill="#ffffff" stroke="#33cccc" stroke-width="1.2"/>
<circle cx="461.3" cy="177.5" r="2.5" fill="#ffffff" stroke="#33cccc" stroke-width="1.2"/>
<circle cx="504.2" cy="174.5" r="2.5" fill="#ffffff" stroke="#33cccc" stroke-width="1.2"/>
<circle cx="546.7" cy="183" r="2.5" fill="#ffffff" stroke="#33cccc" stroke-width="1.2"/>
<circle cx="588.8" cy="186" r="2.5" fill="#ffffff" stroke="#33cccc" stroke-width="1.2"/>
<circle cx="632.2" cy="208.5" r="2.5" fill="#ffffff" stroke="#33cccc" stroke-width="1.2"/>
<circle cx="674.3" cy="211.25" r="2.5" fill="#ffffff" stroke="#33cccc" stroke-width="1.2"/>
<circle cx="716.3" cy="210.5" r="2.5" fill="#ffffff" stroke="#33cccc" stroke-width="1.2"/>
<circle cx="757.5" cy="181" r="2.5" fill="#ffffff" stroke="#33cccc" stroke-width="1.2"/>
<polyline points="31.0,71 80.1,87.5 122.5,95 163.8,100.6 205.9,102 248.1,105.5 291.4,128 333.2,141.5 375.7,149 418.3,159 460.2,157.5 503.7,167.25 546.0,172 588.7,184.4 631.3,193 673.4,195 715.0,188.75 756.6,164.6" fill="none" stroke="#1e90ff" stroke-width="2.15" stroke-linejoin="round"/>
<circle cx="31.0" cy="71" r="2.35" fill="#ffff00" stroke="#1e90ff" stroke-width="0.9"/>
<circle cx="80.1" cy="87.5" r="2.5" fill="#ffffff" stroke="#1e90ff" stroke-width="1.2"/>
<circle cx="122.5" cy="95" r="2.5" fill="#ffffff" stroke="#1e90ff" stroke-width="1.2"/>
<circle cx="163.8" cy="100.6" r="2.5" fill="#ffffff" stroke="#1e90ff" stroke-width="1.2"/>
<circle cx="205.9" cy="102" r="2.5" fill="#ffffff" stroke="#1e90ff" stroke-width="1.2"/>
<circle cx="248.1" cy="105.5" r="2.5" fill="#ffffff" stroke="#1e90ff" stroke-width="1.2"/>
<circle cx="291.4" cy="128" r="2.5" fill="#ffffff" stroke="#1e90ff" stroke-width="1.2"/>
<circle cx="333.2" cy="141.5" r="2.5" fill="#ffffff" stroke="#1e90ff" stroke-width="1.2"/>
<circle cx="375.7" cy="149" r="2.5" fill="#ffffff" stroke="#1e90ff" stroke-width="1.2"/>
<circle cx="418.3" cy="159" r="2.5" fill="#ffffff" stroke="#1e90ff" stroke-width="1.2"/>
<circle cx="460.2" cy="157.5" r="2.5" fill="#ffffff" stroke="#1e90ff" stroke-width="1.2"/>
<circle cx="503.7" cy="167.25" r="2.5" fill="#ffffff" stroke="#1e90ff" stroke-width="1.2"/>
<circle cx="546.0" cy="172" r="2.5" fill="#ffffff" stroke="#1e90ff" stroke-width="1.2"/>
<circle cx="588.7" cy="184.4" r="2.5" fill="#ffffff" stroke="#1e90ff" stroke-width="1.2"/>
<circle cx="631.3" cy="193" r="2.5" fill="#ffffff" stroke="#1e90ff" stroke-width="1.2"/>
<circle cx="673.4" cy="195" r="2.5" fill="#ffffff" stroke="#1e90ff" stroke-width="1.2"/>
<circle cx="715.0" cy="188.75" r="2.5" fill="#ffffff" stroke="#1e90ff" stroke-width="1.2"/>
<circle cx="756.6" cy="164.6" r="2.5" fill="#ffffff" stroke="#1e90ff" stroke-width="1.2"/>
<polyline points="31.0,76.5 80.1,88.5 122.9,101 164.0,104 206.2,106 248.6,114 291.5,129 333.4,144.5 375.8,151.25 419.2,175.5 461.3,176.5 503.4,160.6 545.9,170 588.5,179.5 631.1,190 673.2,192.5 715.1,190 756.7,166.65" fill="none" stroke="#dddd00" stroke-width="2.15" stroke-linejoin="round"/>
<circle cx="31.0" cy="76.5" r="2.35" fill="#ffff00" stroke="#dddd00" stroke-width="0.9"/>
<circle cx="80.1" cy="88.5" r="2.5" fill="#ffffff" stroke="#dddd00" stroke-width="1.2"/>
<circle cx="122.9" cy="101" r="2.5" fill="#ffffff" stroke="#dddd00" stroke-width="1.2"/>
<circle cx="164.0" cy="104" r="2.5" fill="#ffffff" stroke="#dddd00" stroke-width="1.2"/>
<circle cx="206.2" cy="106" r="2.5" fill="#ffffff" stroke="#dddd00" stroke-width="1.2"/>
<circle cx="248.6" cy="114" r="2.5" fill="#ffffff" stroke="#dddd00" stroke-width="1.2"/>
<circle cx="291.5" cy="129" r="2.5" fill="#ffffff" stroke="#dddd00" stroke-width="1.2"/>
<circle cx="333.4" cy="144.5" r="2.5" fill="#ffffff" stroke="#dddd00" stroke-width="1.2"/>
<circle cx="375.8" cy="151.25" r="2.5" fill="#ffffff" stroke="#dddd00" stroke-width="1.2"/>
<circle cx="419.2" cy="175.5" r="2.5" fill="#ffffff" stroke="#dddd00" stroke-width="1.2"/>
<circle cx="461.3" cy="176.5" r="2.5" fill="#ffffff" stroke="#dddd00" stroke-width="1.2"/>
<circle cx="503.4" cy="160.6" r="2.5" fill="#ffffff" stroke="#dddd00" stroke-width="1.2"/>
<circle cx="545.9" cy="170" r="2.5" fill="#ffffff" stroke="#dddd00" stroke-width="1.2"/>
<circle cx="588.5" cy="179.5" r="2.5" fill="#ffffff" stroke="#dddd00" stroke-width="1.2"/>
<circle cx="631.1" cy="190" r="2.5" fill="#ffffff" stroke="#dddd00" stroke-width="1.2"/>
<circle cx="673.2" cy="192.5" r="2.5" fill="#ffffff" stroke="#dddd00" stroke-width="1.2"/>
<circle cx="715.1" cy="190" r="2.5" fill="#ffffff" stroke="#dddd00" stroke-width="1.2"/>
<circle cx="756.7" cy="166.65" r="2.5" fill="#ffffff" stroke="#dddd00" stroke-width="1.2"/>
<polyline points="31.0,98 83.7,150 126.4,161 168.2,175.5 210.7,182.75 252.5,180.25 295.0,188 336.4,195 378.6,198.75 420.5,197.5 462.3,193 504.2,174.4 546.5,180.6 588.9,186.25 631.3,194.4 673.5,197 715.3,194.4 757.7,183" fill="none" stroke="#a2c95a" stroke-width="2.4" stroke-linejoin="round"/>
<circle cx="31.0" cy="98" r="2.35" fill="#ffff00" stroke="#a2c95a" stroke-width="0.9"/>
<circle cx="83.7" cy="150" r="2.35" fill="#ffff00" stroke="#a2c95a" stroke-width="0.9"/>
<circle cx="126.4" cy="161" r="2.35" fill="#ffff00" stroke="#a2c95a" stroke-width="0.9"/>
<circle cx="168.2" cy="175.5" r="2.35" fill="#ffff00" stroke="#a2c95a" stroke-width="0.9"/>
<circle cx="210.7" cy="182.75" r="2.35" fill="#ffff00" stroke="#a2c95a" stroke-width="0.9"/>
<circle cx="252.5" cy="180.25" r="2.35" fill="#ffff00" stroke="#a2c95a" stroke-width="0.9"/>
<circle cx="295.0" cy="188" r="2.35" fill="#ffff00" stroke="#a2c95a" stroke-width="0.9"/>
<circle cx="336.4" cy="195" r="2.5" fill="#ffffff" stroke="#a2c95a" stroke-width="1.2"/>
<circle cx="378.6" cy="198.75" r="2.5" fill="#ffffff" stroke="#a2c95a" stroke-width="1.2"/>
<circle cx="420.5" cy="197.5" r="2.5" fill="#ffffff" stroke="#a2c95a" stroke-width="1.2"/>
<circle cx="462.3" cy="193" r="2.5" fill="#ffffff" stroke="#a2c95a" stroke-width="1.2"/>
<circle cx="504.2" cy="174.4" r="2.5" fill="#ffffff" stroke="#a2c95a" stroke-width="1.2"/>
<circle cx="546.5" cy="180.6" r="2.5" fill="#ffffff" stroke="#a2c95a" stroke-width="1.2"/>
<circle cx="588.9" cy="186.25" r="2.5" fill="#ffffff" stroke="#a2c95a" stroke-width="1.2"/>
<circle cx="631.3" cy="194.4" r="2.5" fill="#ffffff" stroke="#a2c95a" stroke-width="1.2"/>
<circle cx="673.5" cy="197" r="2.5" fill="#ffffff" stroke="#a2c95a" stroke-width="1.2"/>
<circle cx="715.3" cy="194.4" r="2.5" fill="#ffffff" stroke="#a2c95a" stroke-width="1.2"/>
<circle cx="757.7" cy="183" r="2.5" fill="#ffffff" stroke="#a2c95a" stroke-width="1.2"/>
<polyline points="31.0,90 82.4,127.5 124.5,129.4 165.6,131.25 208.3,142.25 250.9,152.5 293.2,158 334.4,160.5 376.3,160 419.1,173 461.3,176 504.8,186 548.5,215 590.3,211 632.3,211 674.7,217.5 717.0,223 758.7,201" fill="none" stroke="#0000ff" stroke-width="2.3" stroke-linejoin="round"/>
<circle cx="31.0" cy="90" r="2.35" fill="#ffff00" stroke="#0000ff" stroke-width="0.9"/>
<circle cx="82.4" cy="127.5" r="2.35" fill="#ffff00" stroke="#0000ff" stroke-width="0.9"/>
<circle cx="124.5" cy="129.4" r="2.35" fill="#ffff00" stroke="#0000ff" stroke-width="0.9"/>
<circle cx="165.6" cy="131.25" r="2.35" fill="#ffff00" stroke="#0000ff" stroke-width="0.9"/>
<circle cx="208.3" cy="142.25" r="2.35" fill="#ffff00" stroke="#0000ff" stroke-width="0.9"/>
<circle cx="250.9" cy="152.5" r="2.35" fill="#ffff00" stroke="#0000ff" stroke-width="0.9"/>
<circle cx="293.2" cy="158" r="2.35" fill="#ffff00" stroke="#0000ff" stroke-width="0.9"/>
<circle cx="334.4" cy="160.5" r="2.35" fill="#ffff00" stroke="#0000ff" stroke-width="0.9"/>
<circle cx="376.3" cy="160" r="2.35" fill="#ffff00" stroke="#0000ff" stroke-width="0.9"/>
<circle cx="419.1" cy="173" r="2.35" fill="#ffff00" stroke="#0000ff" stroke-width="0.9"/>
<circle cx="461.3" cy="176" r="2.35" fill="#ffff00" stroke="#0000ff" stroke-width="0.9"/>
<circle cx="504.8" cy="186" r="2.35" fill="#ffff00" stroke="#0000ff" stroke-width="0.9"/>
<circle cx="548.5" cy="215" r="2.35" fill="#ffff00" stroke="#0000ff" stroke-width="0.9"/>
<circle cx="590.3" cy="211" r="2.35" fill="#ffff00" stroke="#0000ff" stroke-width="0.9"/>
<circle cx="632.3" cy="211" r="2.35" fill="#ffff00" stroke="#0000ff" stroke-width="0.9"/>
<circle cx="674.7" cy="217.5" r="2.35" fill="#ffff00" stroke="#0000ff" stroke-width="0.9"/>
<circle cx="717.0" cy="223" r="2.35" fill="#ffff00" stroke="#0000ff" stroke-width="0.9"/>
<circle cx="758.7" cy="201" r="2.35" fill="#ffff00" stroke="#0000ff" stroke-width="0.9"/>
<polyline points="31.0,63.75 80.1,88 122.8,100.6 164.0,103 206.1,105.6 249.7,133 293.1,157 336.9,204.5 379.2,210 421.9,221.25 465.0,239.5 507.3,227.25 548.6,216 590.4,212.5 632.3,211.25 674.9,222 717.2,226 758.7,201" fill="none" stroke="#cc33ff" stroke-width="2.2" stroke-linejoin="round"/>
<circle cx="31.0" cy="63.75" r="2.35" fill="#ffff00" stroke="#cc33ff" stroke-width="0.9"/>
<circle cx="80.1" cy="88" r="2.35" fill="#ffff00" stroke="#cc33ff" stroke-width="0.9"/>
<circle cx="122.8" cy="100.6" r="2.35" fill="#ffff00" stroke="#cc33ff" stroke-width="0.9"/>
<circle cx="164.0" cy="103" r="2.35" fill="#ffff00" stroke="#cc33ff" stroke-width="0.9"/>
<circle cx="206.1" cy="105.6" r="2.35" fill="#ffff00" stroke="#cc33ff" stroke-width="0.9"/>
<circle cx="249.7" cy="133" r="2.35" fill="#ffff00" stroke="#cc33ff" stroke-width="0.9"/>
<circle cx="293.1" cy="157" r="2.35" fill="#ffff00" stroke="#cc33ff" stroke-width="0.9"/>
<circle cx="336.9" cy="204.5" r="2.35" fill="#ffff00" stroke="#cc33ff" stroke-width="0.9"/>
<circle cx="379.2" cy="210" r="2.35" fill="#ffff00" stroke="#cc33ff" stroke-width="0.9"/>
<circle cx="421.9" cy="221.25" r="2.35" fill="#ffff00" stroke="#cc33ff" stroke-width="0.9"/>
<circle cx="465.0" cy="239.5" r="2.35" fill="#ffff00" stroke="#cc33ff" stroke-width="0.9"/>
<circle cx="507.3" cy="227.25" r="2.35" fill="#ffff00" stroke="#cc33ff" stroke-width="0.9"/>
<circle cx="548.6" cy="216" r="2.35" fill="#ffff00" stroke="#cc33ff" stroke-width="0.9"/>
<circle cx="590.4" cy="212.5" r="2.35" fill="#ffff00" stroke="#cc33ff" stroke-width="0.9"/>
<circle cx="632.3" cy="211.25" r="2.35" fill="#ffff00" stroke="#cc33ff" stroke-width="0.9"/>
<circle cx="674.9" cy="222" r="2.35" fill="#ffff00" stroke="#cc33ff" stroke-width="0.9"/>
<circle cx="717.2" cy="226" r="2.35" fill="#ffff00" stroke="#cc33ff" stroke-width="0.9"/>
<circle cx="758.7" cy="201" r="2.35" fill="#ffff00" stroke="#cc33ff" stroke-width="0.9"/>
<polyline points="31.0,60.5 78.5,60.5 120.5,60.5 161.5,60.5 203.5,60.5 245.5,60.5 287.5,60.5 328.5,60.5 370.5,60.5 412.5,60.5 454.5,60.5 497.5,60.5 539.5,60.5 581.5,60.5 623.5,60.5 665.5,60.5 707.5,60.5 750.9,67" fill="none" stroke="#00cc00" stroke-width="2.2" stroke-linejoin="round"/>
<circle cx="31.0" cy="60.5" r="2.5" fill="#ffffff" stroke="#00cc00" stroke-width="1.2"/>
<circle cx="78.5" cy="60.5" r="2.5" fill="#ffffff" stroke="#00cc00" stroke-width="1.2"/>
<circle cx="120.5" cy="60.5" r="2.5" fill="#ffffff" stroke="#00cc00" stroke-width="1.2"/>
<circle cx="161.5" cy="60.5" r="2.5" fill="#ffffff" stroke="#00cc00" stroke-width="1.2"/>
<circle cx="203.5" cy="60.5" r="2.5" fill="#ffffff" stroke="#00cc00" stroke-width="1.2"/>
<circle cx="245.5" cy="60.5" r="2.5" fill="#ffffff" stroke="#00cc00" stroke-width="1.2"/>
<circle cx="287.5" cy="60.5" r="2.5" fill="#ffffff" stroke="#00cc00" stroke-width="1.2"/>
<circle cx="328.5" cy="60.5" r="2.5" fill="#ffffff" stroke="#00cc00" stroke-width="1.2"/>
<circle cx="370.5" cy="60.5" r="2.5" fill="#ffffff" stroke="#00cc00" stroke-width="1.2"/>
<circle cx="412.5" cy="60.5" r="2.5" fill="#ffffff" stroke="#00cc00" stroke-width="1.2"/>
<circle cx="454.5" cy="60.5" r="2.5" fill="#ffffff" stroke="#00cc00" stroke-width="1.2"/>
<circle cx="497.5" cy="60.5" r="2.5" fill="#ffffff" stroke="#00cc00" stroke-width="1.2"/>
<circle cx="539.5" cy="60.5" r="2.5" fill="#ffffff" stroke="#00cc00" stroke-width="1.2"/>
<circle cx="581.5" cy="60.5" r="2.5" fill="#ffffff" stroke="#00cc00" stroke-width="1.2"/>
<circle cx="623.5" cy="60.5" r="2.5" fill="#ffffff" stroke="#00cc00" stroke-width="1.2"/>
<circle cx="665.5" cy="60.5" r="2.5" fill="#ffffff" stroke="#00cc00" stroke-width="1.2"/>
<circle cx="707.5" cy="60.5" r="2.5" fill="#ffffff" stroke="#00cc00" stroke-width="1.2"/>
<circle cx="750.9" cy="67" r="2.5" fill="#ffffff" stroke="#00cc00" stroke-width="1.2"/>
</g>
<rect x="30" y="25" width="1" height="342" fill="#000"/>
<rect x="30" y="25" width="737" height="1" fill="#000"/>
<polygon points="27.6,365.5 33.4,365.5 30.5,378" fill="#000"/>
<polygon points="765.5,22.7 765.5,28.3 778.5,25.5" fill="#000"/>
<text x="54.5" y="22" font-size="12" text-anchor="middle" fill="#000" font-family="Liberation Sans, sans-serif">1</text>
<text x="99.5" y="22" font-size="12" text-anchor="middle" fill="#000" font-family="Liberation Sans, sans-serif">2</text>
<text x="141.0" y="22" font-size="12" text-anchor="middle" fill="#000" font-family="Liberation Sans, sans-serif">3</text>
<text x="182.5" y="22" font-size="12" text-anchor="middle" fill="#000" font-family="Liberation Sans, sans-serif">4</text>
<text x="224.5" y="22" font-size="12" text-anchor="middle" fill="#000" font-family="Liberation Sans, sans-serif">5</text>
<text x="266.5" y="22" font-size="12" text-anchor="middle" fill="#000" font-family="Liberation Sans, sans-serif">6</text>
<text x="308.0" y="22" font-size="12" text-anchor="middle" fill="#000" font-family="Liberation Sans, sans-serif">7</text>
<text x="349.5" y="22" font-size="12" text-anchor="middle" fill="#000" font-family="Liberation Sans, sans-serif">8</text>
<text x="391.5" y="22" font-size="12" text-anchor="middle" fill="#000" font-family="Liberation Sans, sans-serif">9</text>
<text x="433.5" y="22" font-size="12" text-anchor="middle" fill="#000" font-family="Liberation Sans, sans-serif">10</text>
<text x="476.0" y="22" font-size="12" text-anchor="middle" fill="#000" font-family="Liberation Sans, sans-serif">11</text>
<text x="518.5" y="22" font-size="12" text-anchor="middle" fill="#000" font-family="Liberation Sans, sans-serif">12</text>
<text x="560.5" y="22" font-size="12" text-anchor="middle" fill="#000" font-family="Liberation Sans, sans-serif">13</text>
<text x="602.5" y="22" font-size="12" text-anchor="middle" fill="#000" font-family="Liberation Sans, sans-serif">14</text>
<text x="644.5" y="22" font-size="12" text-anchor="middle" fill="#000" font-family="Liberation Sans, sans-serif">15</text>
<text x="686.5" y="22" font-size="12" text-anchor="middle" fill="#000" font-family="Liberation Sans, sans-serif">16</text>
<text x="730.8" y="22" font-size="12" text-anchor="middle" fill="#000" font-family="Liberation Sans, sans-serif">17</text>
<text x="22.5" y="63" font-size="10" text-anchor="end" fill="#000" font-family="Liberation Sans, sans-serif">+0'</text>
<text x="743" y="40.5" font-size="15.7" fill="#000" font-family="Liberation Sans, sans-serif">Time</text>
<text x="11" y="390" font-size="15" fill="#000" font-family="Liberation Sans, sans-serif">Gap</text>
</svg>
</body></html>
